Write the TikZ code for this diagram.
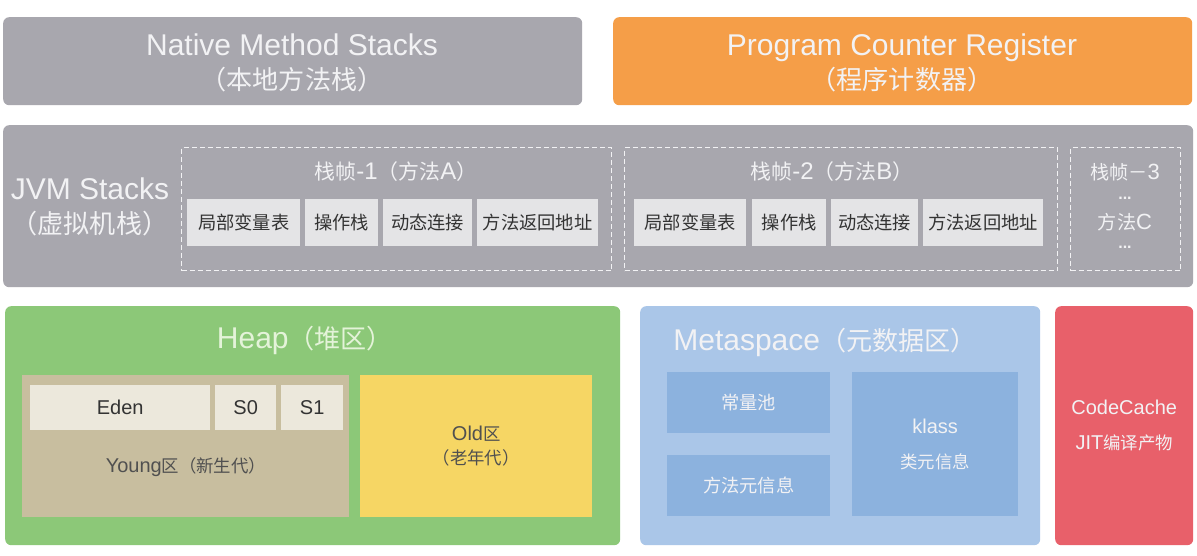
\documentclass[tikz,border=0pt]{standalone}
\usepackage{fontspec}
\setmainfont{Liberation Sans}
\newfontfamily\cjk[Scale=0.87]{Noto Sans CJK SC}
\newcommand{\zh}[1]{{\cjk #1}}
\definecolor{stackgray}{HTML}{A8A7AE}
\definecolor{pcorange}{HTML}{F59E48}
\definecolor{heapgreen}{HTML}{8CC878}
\definecolor{youngtan}{HTML}{C8BE9F}
\definecolor{edencell}{HTML}{ECE8DC}
\definecolor{oldyellow}{HTML}{F6D664}
\definecolor{metablue}{HTML}{AAC6E8}
\definecolor{metainner}{HTML}{8CB2DE}
\definecolor{codered}{HTML}{E8606A}
\definecolor{cellgray}{HTML}{E4E4E6}
\definecolor{titlewhite}{HTML}{F2F2F4}
\definecolor{heaptitle}{HTML}{E4F3D9}
\definecolor{darktext}{HTML}{333333}
\definecolor{youngtext}{HTML}{505050}
\begin{document}
\begin{tikzpicture}[x=1pt,y=-1pt,
  box/.style={draw=none, rounded corners=6pt, inner sep=0pt, anchor=north west, align=center},
  flat/.style={draw=none, inner sep=0pt, anchor=north west, align=center},
  frame/.style={draw=titlewhite, dashed, dash pattern=on 5pt off 3pt, line width=1.3pt, inner sep=0pt, anchor=north west},
  bigtitle/.style={font=\fontsize{30}{34}\selectfont, text=titlewhite, align=center},
  frametitle/.style={font=\fontsize{24}{26}\selectfont, text=titlewhite, align=center},
  cell/.style={flat, fill=cellgray, text=darktext, font=\fontsize{21}{24}\selectfont, minimum height=47pt},
  small/.style={font=\fontsize{20}{35}\selectfont, align=center},
  dots/.style={text=titlewhite, inner sep=0pt, font=\fontsize{16}{16}\selectfont\bfseries}
]
\useasboundingbox (0,0) rectangle (1197,556);
\fill[white] (0,0) rectangle (1197,556);

% Native Method Stacks
\node[box, fill=stackgray, minimum width=579pt, minimum height=88pt] (native) at (3,17) {};
\node[bigtitle] (nativet) at (292,63) {Native Method Stacks\\\zh{（本地方法栈）}};

% Program Counter Register
\node[box, fill=pcorange, minimum width=579pt, minimum height=88pt] (pc) at (613,17) {};
\node[bigtitle] (pct) at (902,63) {Program Counter Register\\\zh{（程序计数器）}};

% JVM Stacks
\node[box, fill=stackgray, minimum width=1190pt, minimum height=162pt] (jvm) at (3,125) {};
\node[bigtitle] (jvmt) at (90,207) {JVM Stacks\\\zh{（虚拟机栈）}};

\node[frame, minimum width=430pt, minimum height=123pt] (f1) at (181,147) {};
\node[frametitle] (f1t) at (396,172) {\zh{栈帧}-1\zh{（方法}A\zh{）}};
\node[cell, minimum width=113pt] (a1) at (187,199) {\zh{局部变量表}};
\node[cell, minimum width=73pt] (a2) at (305,199) {\zh{操作栈}};
\node[cell, minimum width=89pt] (a3) at (383,199) {\zh{动态连接}};
\node[cell, minimum width=121pt] (a4) at (477,199) {\zh{方法返回地址}};

\node[frame, minimum width=433pt, minimum height=123pt] (f2) at (624,147) {};
\node[frametitle] (f2t) at (832,172) {\zh{栈帧}-2\zh{（方法}B\zh{）}};
\node[cell, minimum width=112pt] (b1) at (634,199) {\zh{局部变量表}};
\node[cell, minimum width=74pt] (b2) at (752,199) {\zh{操作栈}};
\node[cell, minimum width=87pt] (b3) at (831,199) {\zh{动态连接}};
\node[cell, minimum width=120pt] (b4) at (923,199) {\zh{方法返回地址}};

\node[frame, minimum width=110pt, minimum height=123pt] (f3) at (1070,147) {};
\node[frametitle, inner sep=1pt, font=\fontsize{22}{24}\selectfont] (f3t) at (1125,172) {\zh{栈帧－}3};
\node[dots] (f3d1) at (1125,198) {...};
\node[frametitle, inner sep=1pt, font=\fontsize{22}{24}\selectfont] (f3m) at (1125,222) {\zh{方法}C};
\node[dots] (f3d2) at (1125,247) {...};

% Heap
\node[box, fill=heapgreen, minimum width=615pt, minimum height=239pt] (heap) at (5,306) {};
\node[bigtitle, text=heaptitle] (heapt) at (305,340) {Heap\zh{（堆区）}};
\node[flat, fill=youngtan, minimum width=327pt, minimum height=142pt] (young) at (22,375) {};
\node[flat, fill=edencell, text=darktext, font=\fontsize{20}{24}\selectfont, minimum width=180pt, minimum height=45pt] (eden) at (30,385) {Eden};
\node[flat, fill=edencell, text=darktext, font=\fontsize{20}{24}\selectfont, minimum width=61pt, minimum height=45pt] (s0) at (215,385) {S0};
\node[flat, fill=edencell, text=darktext, font=\fontsize{20}{24}\selectfont, minimum width=62pt, minimum height=45pt] (s1) at (281,385) {S1};
\node[text=youngtext, font=\fontsize{20}{24}\selectfont] (youngt) at (186,467) {Young\zh{区（新生代）}};
\node[flat, fill=oldyellow, text=youngtext, font=\fontsize{20}{24}\selectfont, minimum width=232pt, minimum height=142pt] (old) at (360,375) {Old\zh{区}\\\zh{（老年代）}};

% Metaspace
\node[box, fill=metablue, minimum width=400pt, minimum height=239pt] (meta) at (640,306) {};
\node[bigtitle] (metat) at (825,342) {Metaspace\zh{（元数据区）}};
\node[flat, fill=metainner, text=titlewhite, font=\fontsize{21}{24}\selectfont, minimum width=163pt, minimum height=61pt] (pool) at (667,372) {\zh{常量池}};
\node[flat, fill=metainner, text=titlewhite, font=\fontsize{21}{24}\selectfont, minimum width=163pt, minimum height=61pt] (methodmeta) at (667,455) {\zh{方法元信息}};
\node[flat, fill=metainner, text=titlewhite, small, minimum width=166pt, minimum height=144pt] (klass) at (852,372) {klass\\\zh{类元信息}};

% CodeCache
\node[box, fill=codered, text=titlewhite, small, minimum width=138pt, minimum height=239pt] (code) at (1055,306) {CodeCache\\JIT\zh{编译产物}};
\end{tikzpicture}
\end{document}
